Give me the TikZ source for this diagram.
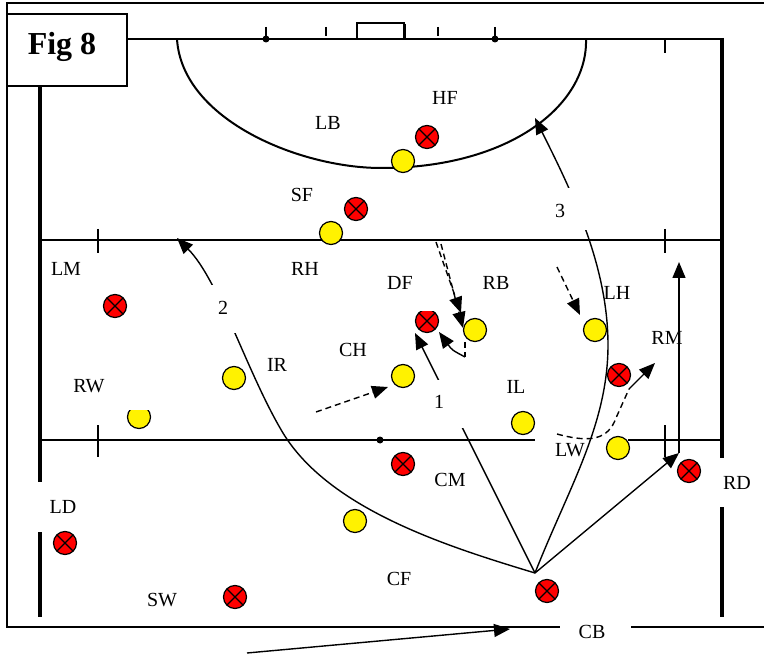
\documentclass[tikz,border=0pt]{standalone}
\usepackage{fontspec}
\setmainfont{Liberation Serif}
\usetikzlibrary{arrows.meta}
\begin{document}
\begin{tikzpicture}[x=1pt,y=-1pt,
  lab/.style={font=\fontsize{20}{24}\selectfont, inner sep=0pt},
  yel/.style={circle,draw,line width=1.2pt,fill=yellow,minimum size=23pt,inner sep=0pt},
  redx/.style={circle,draw,line width=1.2pt,fill=red,minimum size=23pt,inner sep=0pt,
    path picture={\draw[line width=1.2pt] (path picture bounding box.south west)--(path picture bounding box.north east)
      (path picture bounding box.north west)--(path picture bounding box.south east);}},
  tip/.style={-{Triangle[length=16pt,width=13pt]}},
  conn/.style={line width=1.4pt},
  dline/.style={line width=1.4pt, dash pattern=on 6pt off 4pt},
  pline/.style={line width=2pt},
  side/.style={line width=3.5pt},
  tick/.style={line width=2.5pt},
  mask/.style={fill=white}]
\useasboundingbox (0,0) rectangle (764,655);
% outer frame
\draw[pline] (764,3) -- (7,3) -- (7,627) -- (560,627);
\draw[pline] (631,627) -- (764,627);
% pitch
\draw[pline] (40,39) -- (722,39);
\draw[side] (40,39) -- (40,482);
\draw[side] (40,532) -- (40,617);
\draw[side] (722,38) -- (722,458);
\draw[side] (722,507) -- (722,617);
\draw[pline] (40,240) -- (722,240);
\draw[pline] (38,440) -- (535,440);
\draw[pline] (628,440) -- (722,440);
\fill (380,440) circle (3.5pt);
% ticks
\draw[tick] (98,229) -- (98,253);
\draw[tick] (665,229) -- (665,253);
\draw[tick] (98,425) -- (98,457);
\draw[tick] (665,425) -- (665,457);
\draw[tick] (665,39) -- (665,53);
\draw[tick] (266,27) -- (266,39);
\draw[tick] (495,27) -- (495,39);
\fill (266,39) circle (3.5pt);
\fill (495,39) circle (3.5pt);
\draw[tick] (326,27) -- (326,36);
\draw[tick] (438,27) -- (438,36);
% goal
\draw[pline] (357,39) -- (357,23) -- (404,23) -- (404,39);
\draw[line width=3pt] (404,24) -- (404,39);
% D
\draw[pline] (177,39) .. controls (182,120) and (300,168) .. (381,168)
  .. controls (510,168) and (588,105) .. (586,39);
% Fig box
\draw[pline, fill=white] (7,14) rectangle (127,86);
\node[anchor=base, inner sep=0pt, font=\bfseries\fontsize{32}{36}\selectfont] (figlabel) at (62,55) {Fig 8};
% connector coordinates
\coordinate (pass) at (535,573);
\coordinate (t1) at (415,333);
\coordinate (t2) at (177,238);
\coordinate (t3) at (535,118);
\coordinate (t4) at (679,453);
\coordinate (t5) at (679,262);
\coordinate (m2) at (283,433);
\coordinate (m3) at (608,345);
\coordinate (b0) at (247,653);
\coordinate (b1) at (510,629);
% solid connectors
\draw[conn,tip] (pass) -- (t1);
\draw[conn,tip] (pass) .. controls (449,547) and (330,510) .. (m2)
  .. controls (247,373) and (219,280) .. (t2);
\draw[conn,tip] (pass) .. controls (568,489) and (608,425) .. (m3)
  .. controls (608,265) and (571,190) .. (t3);
\draw[conn,tip] (pass) -- (t4);
\draw[conn,tip] (t4) -- (t5);
\draw[conn,tip] (b0) -- (b1);
% dashed runs
\coordinate (a0) at (316,412);
\coordinate (a1) at (388,387);
\draw[dline,tip] (a0) -- (a1);
\coordinate (c0) at (436,242);
\coordinate (c1) at (461,313);
\coordinate (d0) at (441,244);
\coordinate (d1) at (463,328);
\draw[dline,tip] (c0) -- (c1);
\draw[dline,tip] (d0) -- (d1);
\coordinate (e0) at (465,342);
\coordinate (e1) at (465,357);
\coordinate (e2) at (439,332);
\draw[dline] (e0) -- (e1);
\draw[conn,tip] (e1) .. controls (452,350) .. (e2);
\coordinate (f0) at (557,267);
\coordinate (f1) at (580,315);
\draw[dline,tip] (f0) -- (f1);
\coordinate (g0) at (557,434);
\coordinate (g1) at (616,418);
\coordinate (g2) at (629,389);
\coordinate (g3) at (655,363);
\draw[dline] (g0) .. controls (590,443) and (608,440) .. (g1) -- (g2);
\draw[conn,tip] (g2) -- (g3);
% masks behind number labels
\fill[mask] (418,380) rectangle (470,428);
\fill[mask] (198,285) rectangle (246,333);
\fill[mask] (538,188) rectangle (600,230);
% players
\node[redx] (pHF) at (427,137) {};
\node[yel]  (pLB) at (403,161) {};
\node[redx] (pSF) at (356,209) {};
\node[yel]  (pRH) at (331,233) {};
\node[redx] (pLM) at (115,306) {};
\node[yel]  (pRW) at (139,417) {};
\node[yel]  (pIR) at (234,378) {};
\node[yel]  (pCH) at (403,376) {};
\node[redx] (pDF) at (427,321) {};
\node[yel]  (pRB) at (475,330) {};
\node[yel]  (pLH) at (595,330) {};
\node[redx] (pRM) at (619,375) {};
\node[yel]  (pIL) at (523,423) {};
\node[yel]  (pLW) at (618,448) {};
\node[redx] (pRD) at (689,471) {};
\node[redx] (pCM) at (403,464) {};
\node[yel]  (pCF) at (355,521) {};
\node[redx] (pLD) at (65,543) {};
\node[redx] (pSW) at (235,597) {};
\node[redx] (pCB) at (547,591) {};
% masks of text boxes
\fill[mask] (365,255) rectangle (439,311);
\fill[mask] (55,365) rectangle (153,410);
% labels
\node[lab] (lLB) at (328,123) {LB};
\node[lab] (lHF) at (445,98) {HF};
\node[lab] (lSF) at (302,195) {SF};
\node[lab] (lLM) at (66,269) {LM};
\node[lab] (lRH) at (305,269) {RH};
\node[lab] (lDF) at (400,283) {DF};
\node[lab] (lRB) at (496,283) {RB};
\node[lab] (lLH) at (617,293) {LH};
\node[lab] (lRM) at (667,338) {RM};
\node[lab] (lCH) at (353,350) {CH};
\node[lab] (lIR) at (277,365) {IR};
\node[lab] (lRW) at (89,386) {RW};
\node[lab] (lIL) at (516,387) {IL};
\node[lab] (lLW) at (570,450) {LW};
\node[lab] (lCM) at (450,480) {CM};
\node[lab] (lRD) at (737,483) {RD};
\node[lab] (lLD) at (63,507) {LD};
\node[lab] (lCF) at (399,579) {CF};
\node[lab] (lSW) at (162,600) {SW};
\node[lab] (lCB) at (592,632) {CB};
\node[lab] (n1) at (439,402) {1};
\node[lab] (n2) at (223,308) {2};
\node[lab] (n3) at (560,211) {3};
\end{tikzpicture}
\end{document}
